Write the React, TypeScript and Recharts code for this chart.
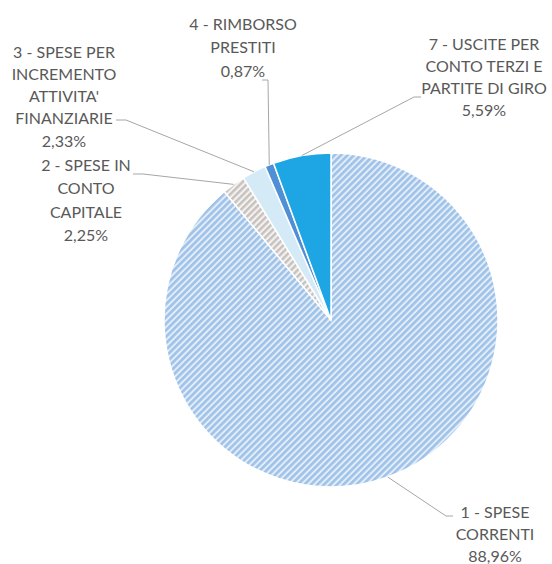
import { Pie, PieChart, Cell } from "recharts";

const categories = [
  "1 - SPESE CORRENTI",
  "2 - SPESE IN CONTO CAPITALE",
  "3 - SPESE PER INCREMENTO ATTIVITA' FINANZIARIE",
  "4 - RIMBORSO PRESTITI",
  "7 - USCITE PER CONTO TERZI E PARTITE DI GIRO",
];

const values = [88.96, 2.25, 2.33, 0.87, 5.59];

const labelLines = [
  ["1 - SPESE", "CORRENTI"],
  ["2 - SPESE IN", "CONTO", "CAPITALE"],
  ["3 - SPESE PER", "INCREMENTO", "ATTIVITA'", "FINANZIARIE"],
  ["4 - RIMBORSO", "PRESTITI"],
  ["7 - USCITE PER", "CONTO TERZI E", "PARTITE DI GIRO"],
];

const fills = ["url(#hatchBlue)", "url(#hatchGray)", "#d4eaf7", "#4f8fd6", "#1ea6e4"];

// where Excel parked each label: text centre, first line, line step, and the leader elbow
const labelLayout = [
  { tx: 495, ty: 511, step: 22, ex: 446, ey: 516, endX: 453 },
  { tx: 86, ty: 164, step: 23.5, ex: 143, ey: 174, endX: 133 },
  { tx: 64, ty: 51, step: 22.3, ex: 126, ey: 120, endX: 116 },
  { tx: 243, ty: 23, step: 23.5, ex: 268, ey: 80, endX: 262 },
  { tx: 484, ty: 43, step: 22.3, ex: 414, ey: 97, endX: 421 },
];

const data = categories.map((name, i) => ({ name, value: values[i] }));

const RADIAN = Math.PI / 180;

function renderLabel(props: any) {
  const { cx, cy, midAngle, outerRadius, index } = props;
  const layout = labelLayout[index];
  const px = cx + outerRadius * Math.cos(-midAngle * RADIAN);
  const py = cy + outerRadius * Math.sin(-midAngle * RADIAN);
  const lines = [...labelLines[index], values[index].toFixed(2).replace(".", ",") + "%"];
  return (
    <g key={`lbl-${index}`}>
      <polyline
        points={`${px},${py} ${layout.ex},${layout.ey} ${layout.endX},${layout.ey}`}
        fill="none"
        stroke="#a6a6a6"
        strokeWidth={1}
      />
      <text
        x={layout.tx}
        y={layout.ty}
        textAnchor="middle"
        fill="#595959"
        fontSize={16}
        fontFamily="Lato, 'Open Sans', sans-serif"
      >
        {lines.map((line, i) => (
          <tspan key={i} x={layout.tx} y={layout.ty + i * layout.step} dominantBaseline="central">
            {line}
          </tspan>
        ))}
      </text>
    </g>
  );
}

export default function App() {
  return (
    <div style={{ position: "absolute", left: 0, top: 0, width: 552, height: 564, background: "#fff" }}>
      <PieChart width={552} height={564} margin={{ top: 0, right: 0, bottom: 0, left: 0 }}>
        <defs>
          <pattern id="hatchBlue" width="4.6" height="4.6" patternUnits="userSpaceOnUse" patternTransform="rotate(45)">
            <rect width="4.6" height="4.6" fill="#e2edf8" />
            <rect width="2.6" height="4.6" fill="#9fc2e9" />
          </pattern>
          <pattern id="hatchGray" width="4.6" height="4.6" patternUnits="userSpaceOnUse" patternTransform="rotate(45)">
            <rect width="4.6" height="4.6" fill="#f4f1ee" />
            <rect width="2.4" height="4.6" fill="#c4c1bf" />
          </pattern>
        </defs>
        <Pie
          data={data}
          dataKey="value"
          nameKey="name"
          cx={331}
          cy={320}
          outerRadius={167}
          startAngle={90}
          endAngle={-270}
          stroke="#ffffff"
          strokeWidth={1.5}
          label={renderLabel}
          labelLine={false}
          isAnimationActive={false}
        >
          {data.map((d, i) => (
            <Cell key={d.name} fill={fills[i]} />
          ))}
        </Pie>
      </PieChart>
    </div>
  );
}
